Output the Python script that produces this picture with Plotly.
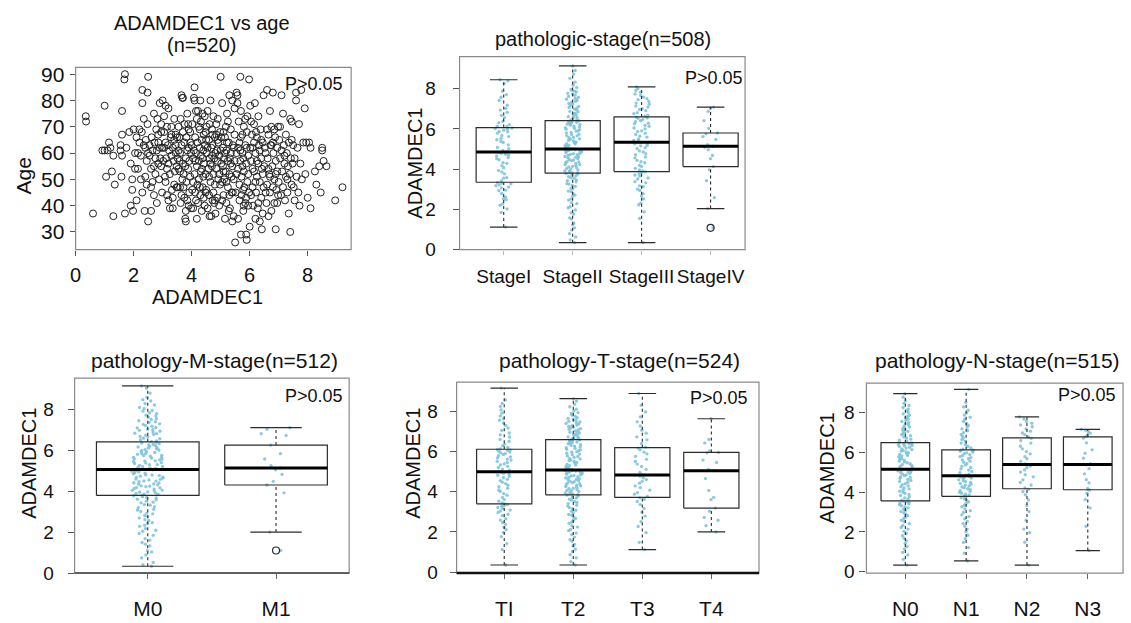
import plotly.graph_objects as go

W, H = 1131, 623
FONT = "Liberation Sans, Arial, sans-serif"

# ---------------- scatter: ADAMDEC1 vs age (expression, age) ----------------
expr_age_pairs = [
    (0.35, 74), (0.36, 72), (0.6, 37), (1.0, 78),
    (1.0, 61), (0.92, 61), (1.1, 61), (1.05, 51), (1.15, 64), (1.2, 62), (1.25, 53), (1.3, 36), (1.3, 59), (1.35, 48),
    (1.55, 63), (1.55, 61), (1.6, 67), (1.6, 59), (1.6, 76), (1.58, 51), (1.7, 90), (1.68, 88), (1.75, 62), (1.7, 37),
    (1.85, 68), (1.9, 40), (1.95, 50), (1.95, 46), (1.98, 38), (1.9, 56),
    (2.0, 69), (2.05, 60), (2.05, 54), (2.1, 66), (2.1, 42), (2.15, 60), (2.15, 54), (2.2, 69), (2.2, 64), (2.25, 59),
    (2.25, 50), (2.28, 68), (2.3, 84), (2.3, 79), (2.3, 45), (2.35, 73), (2.35, 63), (2.38, 38), (2.4, 51), (2.4, 62),
    (2.42, 65), (2.45, 57), (2.45, 48), (2.48, 83), (2.5, 89), (2.5, 34), (2.5, 60), (2.48, 71),
    (2.55, 59), (2.55, 63), (2.6, 54), (2.6, 47), (2.62, 66), (2.65, 61), (2.7, 44), (2.7, 55), (2.72, 64), (2.75, 58),
    (2.78, 69), (2.8, 41), (2.8, 61), (2.82, 73), (2.85, 56), (2.85, 64), (2.88, 50), (2.9, 62), (2.9, 79), (2.92, 58),
    (2.95, 55), (2.95, 68), (2.98, 45), (2.98, 62), (2.6, 38), (2.7, 75), (2.75, 52), (2.85, 67), (2.95, 71), (2.65, 49),
    (3.0, 80), (3.02, 57), (3.05, 68), (3.05, 62), (3.08, 51), (3.1, 78), (3.1, 64), (3.12, 58), (3.15, 44), (3.15, 70),
    (3.18, 63), (3.2, 56), (3.2, 77), (3.22, 61), (3.25, 39), (3.25, 52), (3.28, 66), (3.3, 59), (3.3, 70), (3.32, 46),
    (3.35, 62), (3.35, 39), (3.38, 57), (3.4, 65), (3.4, 48), (3.42, 53), (3.45, 67), (3.45, 60), (3.48, 47), (3.48, 55),
    (3.1, 49), (3.2, 42), (3.3, 67), (3.4, 73), (3.05, 74), (3.15, 54), (3.35, 43), (3.45, 63),
    (3.5, 66), (3.52, 47), (3.55, 61), (3.55, 54), (3.58, 66), (3.6, 53), (3.6, 47), (3.62, 73), (3.65, 82), (3.65, 63),
    (3.68, 81), (3.7, 81), (3.7, 56), (3.72, 52), (3.72, 47), (3.75, 71), (3.75, 64), (3.78, 55), (3.78, 35), (3.8, 34),
    (3.8, 58), (3.8, 38), (3.82, 49), (3.82, 66), (3.85, 61), (3.85, 42), (3.88, 71), (3.88, 54), (3.9, 40), (3.9, 62),
    (3.92, 45), (3.92, 57), (3.95, 68), (3.95, 51), (3.98, 60), (3.98, 39), (3.6, 60), (3.65, 44), (3.7, 68), (3.75, 43),
    (3.55, 70), (3.85, 75), (3.9, 69), (3.58, 57), (3.68, 50), (3.62, 41), (3.95, 64), (3.52, 58),
    (4.0, 63), (4.02, 71), (4.02, 46), (4.05, 58), (4.05, 39), (4.08, 81), (4.1, 85), (4.1, 80), (4.1, 52), (4.12, 66),
    (4.12, 45), (4.15, 76), (4.15, 60), (4.18, 55), (4.18, 73), (4.2, 48), (4.2, 64), (4.22, 76), (4.22, 41), (4.25, 57),
    (4.25, 50), (4.28, 62), (4.28, 69), (4.3, 44), (4.3, 80), (4.32, 53), (4.32, 59), (4.35, 38), (4.35, 65), (4.38, 47),
    (4.38, 75), (4.4, 61), (4.4, 51), (4.42, 43), (4.42, 56), (4.45, 74), (4.45, 63), (4.48, 45), (4.48, 68), (4.05, 49),
    (4.15, 42), (4.25, 70), (4.35, 54), (4.45, 40), (4.08, 61), (4.18, 35), (4.28, 47), (4.38, 58), (4.48, 52), (4.12, 57),
    (4.32, 72), (4.42, 67),
    (4.5, 46), (4.5, 65), (4.52, 60), (4.55, 76), (4.55, 39), (4.58, 54), (4.6, 65), (4.6, 44), (4.62, 58), (4.62, 71),
    (4.65, 49), (4.65, 80), (4.68, 62), (4.68, 36), (4.7, 55), (4.7, 69), (4.72, 42), (4.72, 63), (4.75, 52), (4.75, 74),
    (4.78, 58), (4.78, 41), (4.8, 66), (4.8, 48), (4.82, 60), (4.82, 37), (4.85, 54), (4.85, 67), (4.88, 43), (4.88, 61),
    (4.9, 57), (4.9, 73), (4.92, 50), (4.92, 64), (4.95, 40), (4.95, 59), (4.98, 68), (4.98, 48), (4.55, 62), (4.65, 56),
    (4.75, 45), (4.85, 71), (4.95, 52), (4.6, 51), (4.7, 59), (4.8, 42), (4.9, 65), (4.52, 70), (4.62, 36), (4.72, 67),
    (5.0, 89), (5.0, 61), (5.02, 56), (5.05, 79), (5.05, 49), (5.08, 62), (5.1, 44), (5.1, 68), (5.12, 58), (5.15, 35),
    (5.15, 66), (5.18, 53), (5.2, 61), (5.2, 41), (5.22, 75), (5.25, 57), (5.25, 47), (5.28, 64), (5.3, 82), (5.3, 52),
    (5.32, 39), (5.35, 69), (5.35, 60), (5.38, 45), (5.4, 80), (5.4, 55), (5.42, 63), (5.45, 50), (5.45, 36), (5.48, 67),
    (5.48, 57), (5.05, 42), (5.1, 53), (5.15, 60), (5.2, 49), (5.25, 72), (5.3, 44), (5.35, 56), (5.4, 34), (5.45, 62),
    (5.02, 66), (5.12, 50), (5.22, 64), (5.32, 58), (5.42, 45), (5.08, 55), (5.18, 70), (5.28, 38), (5.38, 51), (5.48, 77),
    (5.5, 26), (5.52, 45), (5.55, 83), (5.55, 60), (5.58, 82), (5.6, 54), (5.6, 35), (5.62, 72), (5.65, 48), (5.65, 64),
    (5.68, 89), (5.68, 57), (5.7, 29), (5.7, 76), (5.72, 51), (5.72, 44), (5.75, 60), (5.75, 67), (5.78, 46), (5.78, 38),
    (5.8, 53), (5.8, 70), (5.82, 47), (5.85, 63), (5.85, 41), (5.88, 29), (5.88, 56), (5.9, 27), (5.9, 68), (5.92, 49),
    (5.92, 74), (5.95, 40), (5.95, 59), (5.98, 88), (5.98, 45), (5.55, 52), (5.6, 62), (5.65, 42), (5.7, 66), (5.75, 55),
    (5.8, 40), (5.85, 73), (5.9, 62), (5.95, 52), (5.58, 79), (5.68, 61), (5.78, 58), (5.88, 43),
    (6.0, 32), (6.02, 62), (6.02, 78), (6.05, 44), (6.05, 57), (6.08, 67), (6.1, 47), (6.1, 62), (6.12, 40), (6.15, 71),
    (6.15, 53), (6.18, 79), (6.2, 35), (6.2, 60), (6.22, 45), (6.25, 66), (6.25, 51), (6.28, 39), (6.3, 56), (6.3, 74),
    (6.32, 63), (6.35, 34), (6.35, 49), (6.38, 69), (6.4, 58), (6.4, 43), (6.42, 31), (6.45, 64), (6.45, 52), (6.48, 82),
    (6.48, 47), (6.1, 54), (6.2, 49), (6.3, 41), (6.4, 65), (6.05, 72), (6.15, 64), (6.25, 57), (6.35, 61), (6.45, 37),
    (6.22, 68), (6.42, 54),
    (6.5, 55), (6.52, 62), (6.55, 45), (6.58, 41), (6.6, 84), (6.6, 48), (6.62, 58), (6.65, 36), (6.65, 67), (6.68, 52),
    (6.7, 76), (6.7, 45), (6.72, 63), (6.75, 38), (6.75, 70), (6.78, 55), (6.8, 83), (6.8, 47), (6.82, 60), (6.85, 50),
    (6.85, 41), (6.88, 66), (6.9, 31), (6.9, 57), (6.92, 46), (6.95, 62), (6.95, 53), (6.98, 70), (6.98, 44), (6.55, 60),
    (6.65, 54), (6.75, 63), (6.85, 69), (6.95, 41), (6.6, 69), (6.7, 51), (6.8, 64), (6.9, 52),
    (7.0, 49), (7.02, 65), (7.05, 58), (7.08, 44), (7.1, 82), (7.1, 61), (7.12, 53), (7.15, 75), (7.15, 47), (7.18, 63),
    (7.2, 56), (7.22, 42), (7.25, 67), (7.25, 51), (7.28, 60), (7.3, 45), (7.32, 55), (7.35, 64), (7.35, 37), (7.38, 52),
    (7.4, 30), (7.4, 73), (7.42, 58), (7.45, 48), (7.45, 65), (7.48, 56), (7.2, 59), (7.3, 50), (7.05, 70), (7.45, 72),
    (7.5, 63), (7.52, 47), (7.55, 58), (7.6, 80), (7.6, 83), (7.62, 51), (7.65, 62), (7.68, 45), (7.7, 71), (7.72, 40),
    (7.75, 56), (7.78, 84), (7.8, 50), (7.85, 64), (7.9, 77), (7.92, 52), (7.95, 64), (7.55, 42),
    (8.0, 43), (8.05, 64), (8.1, 39), (8.1, 62), (8.25, 53), (8.3, 48), (8.4, 55), (8.45, 45),
    (8.5, 62), (8.5, 61), (8.55, 57), (8.65, 55), (8.95, 42), (9.2, 47),
]
scatter_expr = [p[0] for p in expr_age_pairs]
scatter_age = [p[1] for p in expr_age_pairs]

# ---------------- pathologic stage ----------------
stage_cats = ["StageI", "StageII", "StageIII", "StageIV"]
stage_q1 = [3.35, 3.80, 3.88, 4.13]
stage_med = [4.85, 5.01, 5.34, 5.14]
stage_q3 = [6.07, 6.42, 6.60, 5.80]
stage_lo = [1.12, 0.34, 0.34, 2.04]
stage_hi = [8.45, 9.14, 8.10, 7.09]
stage_out_cat = ["StageIV"]
stage_out_val = [1.08]
stage_I = [1.12, 1.85, 2.02, 2.21, 2.27, 2.48, 2.53, 2.61, 2.79, 2.93, 2.96, 3.07, 3.11, 3.18, 3.22, 3.27, 3.31, 3.34,
           3.42, 3.55, 3.58, 3.77, 3.86, 3.93, 4.07, 4.18, 4.29, 4.33, 4.47, 4.52, 4.58, 4.66, 4.71, 4.74, 4.79, 4.84,
           4.88, 4.93, 5.02, 5.08, 5.21, 5.33, 5.38, 5.47, 5.53, 5.62, 5.68, 5.79, 5.86, 5.88, 5.94, 5.99, 6.02, 6.05,
           6.11, 6.14, 6.22, 6.31, 6.38, 6.57, 6.68, 6.83, 6.94, 7.03, 7.18, 7.42, 7.58, 7.71, 7.88, 8.27, 8.39, 8.45]
stage_II = [0.34, 0.48, 0.63, 0.79, 0.97, 1.08, 1.23, 1.31, 1.52, 1.58, 1.77, 1.83, 1.97, 2.08, 2.13, 2.29, 2.34, 2.46,
            2.52, 2.66, 2.71, 2.77, 2.88, 2.91, 3.02, 3.04, 3.14, 3.19, 3.26, 3.28, 3.37, 3.43, 3.46, 3.55, 3.57, 3.63,
            3.67, 3.71, 3.76, 3.79,
            3.81, 3.82, 3.88, 3.91, 3.92, 3.97, 4.01, 4.03, 4.08, 4.11, 4.14, 4.19, 4.22, 4.23, 4.29, 4.32, 4.36, 4.37,
            4.43, 4.46, 4.47, 4.53, 4.56, 4.59, 4.62, 4.63, 4.68, 4.72, 4.74, 4.77, 4.78, 4.83, 4.86, 4.88, 4.89, 4.93,
            4.95, 4.97, 4.99, 5.0,
            5.02, 5.07, 5.08, 5.13, 5.17, 5.19, 5.26, 5.27, 5.33, 5.35, 5.41, 5.43, 5.49, 5.51, 5.57, 5.58, 5.66, 5.67,
            5.73, 5.74, 5.81, 5.83, 5.89, 5.91, 5.97, 5.99, 6.03, 6.07, 6.11, 6.14, 6.19, 6.22, 6.24, 6.28, 6.31, 6.33,
            6.35, 6.37, 6.39, 6.41,
            6.45, 6.47, 6.53, 6.58, 6.61, 6.63, 6.71, 6.74, 6.79, 6.86, 6.88, 6.96, 6.99, 7.04, 7.07, 7.13, 7.18, 7.24,
            7.27, 7.33, 7.38, 7.42, 7.48, 7.53, 7.57, 7.62, 7.68, 7.73, 7.77, 7.84, 7.88, 7.93, 7.97, 8.06, 8.18, 8.33,
            8.52, 8.73, 8.91, 9.14]
stage_III = [0.34, 1.55, 1.88, 2.23, 2.31, 2.52, 2.67, 2.78, 2.94, 3.01, 3.13, 3.17, 3.32, 3.38, 3.51, 3.56, 3.66, 3.71,
             3.77, 3.84, 3.87, 3.91, 3.96, 4.04, 4.13, 4.19, 4.32, 4.37, 4.44, 4.56, 4.61, 4.72, 4.77, 4.86, 4.91, 5.02,
             5.07, 5.16, 5.19, 5.27, 5.29, 5.33, 5.37, 5.43, 5.49, 5.59, 5.64, 5.73, 5.79, 5.87, 5.91, 6.01, 6.05, 6.13,
             6.18, 6.26, 6.29, 6.37, 6.41, 6.47, 6.53, 6.55, 6.59, 6.63, 6.69, 6.76, 6.81, 6.91, 6.97, 7.01, 7.09, 7.14,
             7.23, 7.29, 7.37, 7.46, 7.51, 7.59, 7.67, 7.74, 7.83, 7.92, 8.01, 8.1]
stage_IV = [1.08, 2.04, 2.58, 3.43, 3.97, 4.13, 4.52, 4.68, 4.97, 5.09, 5.14, 5.22, 5.48, 5.62, 5.76, 5.8, 6.03, 6.42,
            6.88, 7.02, 7.09]
stage_points = [stage_I, stage_II, stage_III, stage_IV]

# ---------------- pathology M stage ----------------
m_cats = ["M0", "M1"]
m_q1 = [3.79, 4.30]
m_med = [5.06, 5.13]
m_q3 = [6.41, 6.25]
m_lo = [0.33, 2.00]
m_hi = [9.14, 7.10]
m_out_cat = ["M1"]
m_out_val = [1.10]
m_M0 = [0.33, 0.41, 0.52, 0.74, 0.88, 1.03, 1.09, 1.33, 1.41, 1.49, 1.61, 1.68, 1.84, 1.93, 2.04, 2.09, 2.17, 2.28,
        2.33, 2.42, 2.46, 2.57, 2.61, 2.69, 2.76, 2.81, 2.89, 2.93, 3.01, 3.07, 3.11, 3.19, 3.23, 3.31, 3.34, 3.43,
        3.46, 3.51, 3.58, 3.61, 3.67, 3.69, 3.73, 3.78,
        3.8, 3.84, 3.85, 3.89, 3.92, 3.95, 3.96, 4.01, 4.04, 4.05, 4.1, 4.13, 4.16, 4.17, 4.22, 4.25, 4.26, 4.31,
        4.34, 4.35, 4.4, 4.41, 4.46, 4.49, 4.5, 4.55, 4.58, 4.59, 4.64, 4.67, 4.68, 4.73, 4.76, 4.79, 4.8, 4.85,
        4.88, 4.89, 4.94, 4.97, 4.98, 5.01, 5.04, 5.05,
        5.08, 5.11, 5.12, 5.17, 5.2, 5.21, 5.26, 5.29, 5.3, 5.35, 5.38, 5.39, 5.44, 5.47, 5.48, 5.53, 5.56, 5.57,
        5.62, 5.65, 5.66, 5.71, 5.74, 5.75, 5.8, 5.83, 5.84, 5.89, 5.92, 5.93, 5.98, 6.01, 6.03, 6.07, 6.1, 6.13,
        6.16, 6.19, 6.22, 6.26, 6.28, 6.32, 6.35, 6.39,
        6.42, 6.46, 6.5, 6.56, 6.59, 6.65, 6.67, 6.73, 6.77, 6.81, 6.83, 6.89, 6.93, 6.97, 7.01, 7.03, 7.09, 7.11,
        7.17, 7.21, 7.26, 7.29, 7.36, 7.39, 7.44, 7.51, 7.54, 7.61, 7.67, 7.71, 7.79, 7.83, 7.91, 7.94, 8.03, 8.09,
        8.21, 8.28, 8.41, 8.47, 8.58, 8.79, 9.03, 9.14]
m_M1 = [1.1, 2.0, 3.92, 4.3, 4.48, 4.82, 5.04, 5.13, 5.24, 5.57, 5.83, 6.25, 6.72, 6.81, 7.03, 7.1]
m_points = [m_M0, m_M1]

# ---------------- pathology T stage ----------------
t_cats = ["TI", "T2", "T3", "T4"]
t_q1 = [3.40, 3.85, 3.72, 3.19]
t_med = [5.00, 5.08, 4.84, 5.05]
t_q3 = [6.12, 6.60, 6.20, 5.96]
t_lo = [0.35, 0.35, 1.12, 2.00]
t_hi = [9.17, 8.64, 8.90, 7.64]
t_T1 = [0.35, 1.12, 1.42, 1.76, 1.98, 2.11, 2.23, 2.38, 2.47, 2.59, 2.66, 2.81, 2.88, 2.97, 3.04, 3.09, 3.17, 3.22,
        3.28, 3.31, 3.36, 3.39, 3.44, 3.53, 3.61, 3.72, 3.83, 3.91, 4.02, 4.09, 4.18, 4.26, 4.33, 4.41, 4.48, 4.56,
        4.62, 4.7, 4.77, 4.83, 4.88, 4.93, 4.97, 4.99, 5.02, 5.08, 5.13, 5.21, 5.27, 5.34, 5.39, 5.46, 5.52, 5.58,
        5.63, 5.69, 5.74, 5.8, 5.86, 5.9, 5.94, 5.98, 6.02, 6.06, 6.09, 6.11, 6.14, 6.21, 6.3, 6.38, 6.52, 6.61,
        6.73, 6.84, 6.93, 7.06, 7.18, 7.31, 7.43, 7.57, 7.64, 7.78, 7.92, 8.08, 8.26, 8.41, 8.58, 9.17]
t_T2 = [0.35, 0.52, 0.71, 0.86, 1.02, 1.14, 1.29, 1.38, 1.53, 1.62, 1.74, 1.86, 1.94, 2.06, 2.12, 2.24, 2.31, 2.43,
        2.49, 2.58, 2.67, 2.72, 2.83, 2.87, 2.96, 3.03, 3.08, 3.16, 3.21, 3.29, 3.33, 3.41, 3.47, 3.52, 3.58, 3.63,
        3.69, 3.74, 3.79, 3.84,
        3.86, 3.89, 3.93, 3.94, 3.99, 4.02, 4.06, 4.07, 4.12, 4.16, 4.18, 4.23, 4.26, 4.29, 4.33, 4.35, 4.4, 4.43,
        4.45, 4.5, 4.52, 4.56, 4.6, 4.62, 4.66, 4.69, 4.72, 4.75, 4.79, 4.81, 4.85, 4.88, 4.9, 4.93, 4.96, 4.98,
        5.01, 5.03, 5.05, 5.07,
        5.1, 5.14, 5.16, 5.22, 5.25, 5.3, 5.34, 5.37, 5.43, 5.46, 5.51, 5.55, 5.58, 5.64, 5.67, 5.72, 5.76, 5.79,
        5.85, 5.88, 5.92, 5.97, 6.0, 6.05, 6.09, 6.12, 6.17, 6.2, 6.24, 6.28, 6.31, 6.35, 6.39, 6.42, 6.45, 6.48,
        6.51, 6.54, 6.56, 6.59,
        6.62, 6.64, 6.68, 6.71, 6.74, 6.79, 6.81, 6.86, 6.89, 6.93, 6.97, 7.0, 7.04, 7.08, 7.11, 7.15, 7.19, 7.22,
        7.26, 7.3, 7.33, 7.37, 7.41, 7.45, 7.48, 7.52, 7.57, 7.61, 7.66, 7.7, 7.76, 7.82, 7.89, 7.95, 8.03, 8.12,
        8.24, 8.37, 8.52, 8.64]
t_T3 = [1.12, 1.48, 1.96, 2.27, 2.51, 2.79, 2.98, 3.17, 3.36, 3.52, 3.63, 3.7, 3.77, 3.88, 3.96, 4.08, 4.21, 4.29,
        4.43, 4.52, 4.61, 4.7, 4.78, 4.83, 4.86, 4.97, 5.12, 5.26, 5.38, 5.51, 5.62, 5.77, 5.89, 5.98, 6.09, 6.18,
        6.23, 6.41, 6.59, 6.74, 6.92, 7.07, 7.28, 7.49, 7.73, 7.98, 8.31, 8.9]
t_T4 = [2.0, 2.31, 2.58, 2.72, 3.04, 3.19, 3.61, 3.72, 4.07, 4.66, 5.05, 5.12, 5.46, 5.58, 5.94, 5.96, 6.04, 6.43,
        6.61, 7.64]
t_points = [t_T1, t_T2, t_T3, t_T4]

# ---------------- pathology N stage ----------------
n_cats = ["N0", "N1", "N2", "N3"]
n_q1 = [3.56, 3.79, 4.17, 4.12]
n_med = [5.15, 4.82, 5.39, 5.39]
n_q3 = [6.49, 6.13, 6.73, 6.78]
n_lo = [0.33, 0.54, 0.33, 1.06]
n_hi = [8.96, 9.17, 7.79, 7.16]
n_N0 = [0.33, 0.62, 0.84, 0.97, 1.14, 1.26, 1.43, 1.55, 1.68, 1.81, 1.92, 2.03, 2.14, 2.22, 2.33, 2.41, 2.52, 2.58,
        2.67, 2.74, 2.82, 2.89, 2.96, 3.02, 3.09, 3.14, 3.21, 3.26, 3.32, 3.37, 3.41, 3.45, 3.49, 3.52, 3.55,
        3.6, 3.66, 3.71, 3.77, 3.83, 3.88, 3.94, 3.99, 4.05, 4.1, 4.16, 4.21, 4.27, 4.32, 4.38, 4.43, 4.49, 4.54,
        4.59, 4.64, 4.69, 4.74, 4.78, 4.83, 4.87, 4.91, 4.95, 4.98, 5.01, 5.04, 5.07, 5.09, 5.11, 5.13, 5.14,
        5.17, 5.21, 5.26, 5.3, 5.35, 5.39, 5.43, 5.48, 5.52, 5.56, 5.61, 5.65, 5.69, 5.73, 5.78, 5.82, 5.86, 5.9,
        5.94, 5.98, 6.02, 6.06, 6.1, 6.14, 6.18, 6.22, 6.26, 6.3, 6.33, 6.36, 6.39, 6.42, 6.44, 6.46, 6.48,
        6.51, 6.56, 6.62, 6.67, 6.73, 6.78, 6.84, 6.89, 6.95, 7.0, 7.06, 7.11, 7.17, 7.22, 7.28, 7.33, 7.39, 7.44,
        7.5, 7.56, 7.62, 7.68, 7.74, 7.8, 7.87, 7.94, 8.01, 8.09, 8.17, 8.26, 8.36, 8.47, 8.6, 8.78, 8.96]
n_N1 = [0.54, 0.93, 1.21, 1.47, 1.66, 1.83, 2.01, 2.14, 2.28, 2.42, 2.53, 2.66, 2.77, 2.86, 2.98, 3.07, 3.16, 3.27,
        3.34, 3.43, 3.51, 3.58, 3.66, 3.72, 3.78,
        3.81, 3.86, 3.9, 3.95, 3.99, 4.04, 4.08, 4.13, 4.17, 4.22, 4.26, 4.31, 4.35, 4.4, 4.44, 4.49, 4.53, 4.58,
        4.62, 4.67, 4.71, 4.74, 4.77, 4.79, 4.81,
        4.85, 4.91, 4.98, 5.04, 5.11, 5.17, 5.24, 5.3, 5.37, 5.43, 5.5, 5.56, 5.62, 5.68, 5.74, 5.79, 5.84, 5.89,
        5.94, 5.98, 6.02, 6.06, 6.09, 6.11, 6.12,
        6.16, 6.23, 6.31, 6.39, 6.47, 6.56, 6.64, 6.73, 6.82, 6.91, 7.0, 7.09, 7.18, 7.27, 7.36, 7.46, 7.56, 7.66,
        7.77, 7.88, 7.99, 8.12, 8.29, 8.52, 9.17]
n_N2 = [0.33, 1.48, 1.96, 2.14, 2.59, 3.02, 3.33, 3.61, 3.87, 4.03, 4.15, 4.21, 4.36, 4.49, 4.62, 4.77, 4.88, 5.01,
        5.12, 5.23, 5.31, 5.37, 5.42, 5.55, 5.68, 5.79, 5.93, 6.04, 6.18, 6.31, 6.47, 6.59, 6.71, 6.78, 6.89, 6.98,
        7.07, 7.18, 7.29, 7.38, 7.47, 7.56, 7.68, 7.79]
n_N3 = [1.06, 2.28, 3.21, 3.62, 3.94, 4.11, 4.19, 4.47, 4.63, 4.92, 5.18, 5.37, 5.44, 5.71, 5.96, 6.13, 6.48, 6.72,
        6.81, 6.89, 6.97, 7.03, 7.11, 7.16]
n_points = [n_N0, n_N1, n_N2, n_N3]

# ---------------- styling constants ----------------
BOX_HALF = 0.4
CAP_HALF = 0.2
PT_COLOR = "rgba(125,195,220,0.9)"
LINE_COLOR = "#2b2b2b"
FRAME_COLOR = "#8a8a8a"
TICK_FONT = dict(family=FONT, size=19, color="#111")


def px_x(px):
    return px / W


def px_y(py):
    return 1 - py / H


fig = go.Figure()


def add_box_panel(ax, cats, points, q1, med, q3, lo, hi, out_cat=(), out_val=()):
    xa = "x" + ax
    ya = "y" + ax
    pos = {c: i + 1 for i, c in enumerate(cats)}
    # jittered sample points (library jitter)
    for c, vals in zip(cats, points):
        fig.add_trace(go.Box(
            x=[pos[c]] * len(vals), y=vals, boxpoints="all", jitter=0.32, pointpos=0,
            width=2 * BOX_HALF, whiskerwidth=0, line=dict(width=0), fillcolor="rgba(0,0,0,0)",
            marker=dict(color=PT_COLOR, size=3.3, line=dict(width=0)),
            hoverinfo="skip", showlegend=False, xaxis=xa, yaxis=ya))
    rx, ry, wx, wy, cx, cy, mx, my = [], [], [], [], [], [], [], []
    for i, c in enumerate(cats):
        p = pos[c]
        rx += [p - BOX_HALF, p + BOX_HALF, p + BOX_HALF, p - BOX_HALF, p - BOX_HALF, None]
        ry += [q1[i], q1[i], q3[i], q3[i], q1[i], None]
        wx += [p, p, None, p, p, None]
        wy += [q3[i], hi[i], None, lo[i], q1[i], None]
        cx += [p - CAP_HALF, p + CAP_HALF, None, p - CAP_HALF, p + CAP_HALF, None]
        cy += [hi[i], hi[i], None, lo[i], lo[i], None]
        mx += [p - BOX_HALF, p + BOX_HALF, None]
        my += [med[i], med[i], None]
    common = dict(mode="lines", hoverinfo="skip", showlegend=False, xaxis=xa, yaxis=ya)
    fig.add_trace(go.Scatter(x=rx, y=ry, line=dict(color=LINE_COLOR, width=1.2), **common))
    fig.add_trace(go.Scatter(x=wx, y=wy, line=dict(color=LINE_COLOR, width=1.1, dash="3px,3px"), **common))
    fig.add_trace(go.Scatter(x=cx, y=cy, line=dict(color=LINE_COLOR, width=1.2), **common))
    fig.add_trace(go.Scatter(x=mx, y=my, line=dict(color="#000", width=3), **common))
    if out_cat:
        fig.add_trace(go.Scatter(x=[pos[c] for c in out_cat], y=list(out_val), mode="markers",
                                 marker=dict(symbol="circle-open", size=7, color=LINE_COLOR, line=dict(width=1.2)),
                                 hoverinfo="skip", showlegend=False, xaxis=xa, yaxis=ya))


# panel 1: scatter
fig.add_trace(go.Scatter(x=scatter_expr, y=scatter_age, mode="markers",
                         marker=dict(symbol="circle-open", size=7, color="#222", line=dict(width=1)),
                         hoverinfo="skip", showlegend=False, xaxis="x", yaxis="y"))

add_box_panel("2", stage_cats, stage_points, stage_q1, stage_med, stage_q3, stage_lo, stage_hi,
              stage_out_cat, stage_out_val)
add_box_panel("3", m_cats, m_points, m_q1, m_med, m_q3, m_lo, m_hi, m_out_cat, m_out_val)
add_box_panel("4", t_cats, t_points, t_q1, t_med, t_q3, t_lo, t_hi)
add_box_panel("5", n_cats, n_points, n_q1, n_med, n_q3, n_lo, n_hi)


# ---------------- axes ----------------
def xdom(a, b):
    return [px_x(a), px_x(b)]


def ydom(top, bottom):
    return [px_y(bottom), px_y(top)]


def yax(standoff, ticklen=6):
    return dict(showgrid=False, zeroline=False, showline=False, ticks="outside", ticklen=ticklen,
                tickcolor="#555", tickwidth=1, tickfont=TICK_FONT, tickvals=[0, 2, 4, 6, 8],
                ticklabelstandoff=standoff)


xtop = dict(showgrid=False, zeroline=False, showline=False, ticks="outside", ticklen=4, tickcolor="#bbb",
            tickfont=dict(family=FONT, size=19, color="#111"), ticklabelstandoff=6, tickangle=0)
xbot = dict(showgrid=False, zeroline=False, showline=False, ticks="outside", ticklen=5, tickcolor="#666",
            tickfont=dict(family=FONT, size=21, color="#111"), ticklabelstandoff=12, tickangle=0)

layout = dict(
    width=W, height=H, margin=dict(l=0, r=0, t=0, b=0), autosize=False,
    paper_bgcolor="white", plot_bgcolor="white", showlegend=False, boxmode="overlay",
    font=dict(family=FONT, color="#111"),
    xaxis=dict(domain=xdom(70, 347), range=[0, 9.5], showgrid=False, zeroline=False, ticks="outside",
               ticklen=5, tickcolor="#555", tickvals=[0, 2, 4, 6, 8], tickangle=0,
               tickfont=dict(family=FONT, size=20, color="#111"), ticklabelstandoff=2, anchor="y"),
    yaxis=dict(domain=ydom(64, 251), range=[23.3, 92.6], showgrid=False, zeroline=False, ticks="outside",
               ticklen=5, tickcolor="#555", tickvals=[30, 40, 50, 60, 70, 80, 90],
               tickfont=dict(family=FONT, size=21, color="#111"), ticklabelstandoff=1, anchor="x"),
    xaxis2=dict(domain=xdom(456, 743), range=[0.36, 4.5], tickvals=[1, 2, 3, 4], ticktext=stage_cats,
                anchor="y2", **xtop),
    yaxis2=dict(domain=ydom(53, 251), range=[0, 9.6], anchor="x2", **yax(13)),
    xaxis3=dict(domain=xdom(69, 345), range=[0.43, 2.57], tickvals=[1, 2], ticktext=m_cats, anchor="y3", **xbot),
    yaxis3=dict(domain=ydom(383, 583), range=[0, 9.52], anchor="x3", **yax(10)),
    xaxis4=dict(domain=xdom(453, 757), range=[0.31, 4.69], tickvals=[1, 2, 3, 4], ticktext=t_cats,
                anchor="y4", **xbot),
    yaxis4=dict(domain=ydom(387, 583), range=[-0.05, 9.47], anchor="x4", **yax(8)),
    xaxis5=dict(domain=xdom(865, 1123), range=[0.36, 4.58], tickvals=[1, 2, 3, 4], ticktext=n_cats,
                anchor="y5", **xbot),
    yaxis5=dict(domain=ydom(388, 583), range=[-0.07, 9.49], anchor="x5", **yax(1, 6)),
)

shapes = []
for ax in ["", "2", "3", "4", "5"]:
    shapes.append(dict(type="rect", xref=f"x{ax} domain", yref=f"y{ax} domain", x0=0, x1=1, y0=0, y1=1,
                       line=dict(color=FRAME_COLOR, width=1.2), fillcolor="rgba(0,0,0,0)", layer="above"))
shapes.append(dict(type="line", xref="x4 domain", yref="y4 domain", x0=0, x1=1, y0=0, y1=0,
                   line=dict(color="#111", width=2.5), layer="above"))
shapes.append(dict(type="line", xref="x3 domain", yref="y3 domain", x0=0, x1=1, y0=0, y1=0,
                   line=dict(color="#444", width=1.5), layer="above"))
layout["shapes"] = shapes


def ann(text, x, y, size, angle=0):
    return dict(text=text, x=px_x(x), y=px_y(y), xref="paper", yref="paper", showarrow=False,
                xanchor="center", yanchor="middle", textangle=angle,
                font=dict(family=FONT, size=size, color="#111"))


annotations = [
    ann("ADAMDEC1 vs age", 197, 18, 20),
    ann("(n=520)", 197, 41, 20),
    ann("pathologic-stage(n=508)", 600, 35, 20),
    ann("pathology-M-stage(n=512)", 210, 365, 21),
    ann("pathology-T-stage(n=524)", 617, 365, 21),
    ann("pathology-N-stage(n=515)", 997, 365, 21),
    ann("P&gt;0.05", 310, 81, 18),
    ann("P&gt;0.05", 712, 75, 18),
    ann("P&gt;0.05", 310, 401, 18),
    ann("P&gt;0.05", 717, 403, 18),
    ann("P&gt;0.05", 1087, 400, 18),
    ann("Age", 18, 175, 21, -90),
    ann("ADAMDEC1", 203, 300, 20),
    ann("ADAMDEC1", 411, 162, 20, -90),
    ann("ADAMDEC1", 23, 470, 20, -90),
    ann("ADAMDEC1", 409, 470, 20, -90),
    ann("ADAMDEC1", 825, 475, 20, -90),
]
layout["annotations"] = annotations

fig.update_layout(**layout)
fig.write_html(
    "out.html", config={"displayModeBar": False},
    post_script=("document.documentElement.style.margin='0';document.documentElement.style.overflow='hidden';"
                 "document.body.style.margin='0';document.body.style.overflow='hidden';"))
